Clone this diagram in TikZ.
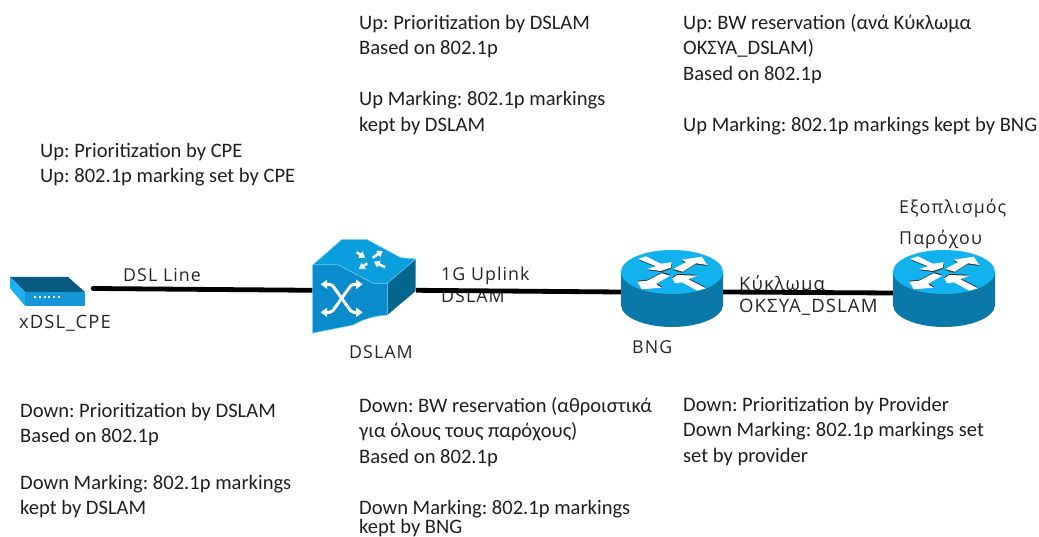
\documentclass[tikz,border=0pt]{standalone}
\usepackage{fontspec}
\setmainfont{Carlito}
\newfontfamily\labelfont[LetterSpace=6]{Open Sans}
\usetikzlibrary{arrows.meta}
\definecolor{rtop}{HTML}{12B2EE}
\definecolor{rside}{HTML}{0A78A8}
\definecolor{swfront}{HTML}{0A8BCB}
\definecolor{swtop}{HTML}{0A9EDC}
\definecolor{swside}{HTML}{05668D}
\definecolor{cpetop}{HTML}{07597F}
\definecolor{cpefront}{HTML}{1594D6}
\definecolor{cpeleft}{HTML}{1BB0F2}
\definecolor{edgeblue}{HTML}{6CCBF2}
\tikzset{
  x=1pt,y=-1pt,
  block/.style={anchor=north west,align=left,inner sep=0pt,text=black!88,font=\frenchspacing\fontsize{20.55}{25.5}\selectfont},
  lbl/.style={anchor=base west,align=left,inner sep=0pt,text=black!85,font=\labelfont\fontsize{17.8}{22}\selectfont},
  hub/.style={inner sep=0pt,minimum width=#1},
  link/.style={line width=4.8pt,black},
  sarrow/.style={white,line width=2.6pt,-{Triangle[width=7.5pt,length=5.5pt]}},
  xarrow/.style={white,line width=3pt,{Triangle[width=9pt,length=6.5pt]}-{Triangle[width=9pt,length=6.5pt]}},
  router/.pic={
    \fill[rside] (-51,0) -- (-51,33) .. controls (-51,45) and (-28,55) .. (0,55) .. controls (28,55) and (51,45) .. (51,33) -- (51,0) -- cycle;
    \fill[rtop] (0,0) ellipse[x radius=51,y radius=22];
    \foreach \sx/\sy/\pts in {0.5/1/{(-33.7,-13) -- (-26,-15.7) -- (-11.3,-8.3) -- (-0.3,-9.7) -- (-1.3,-4.3) -- (-11.3,-1) -- (-25.3,-3) -- (-16,-5.7) -- cycle},
        -0.5/1/{(1.3,-3) -- (14,-9.7) -- (9.7,-12.3) -- (29.7,-15.3) -- (35.3,-7) -- (24,-8.7) -- (10.7,-0.3) -- cycle},
        0.5/-1/{(-34.7,9.7) -- (-24.7,8.7) -- (-10.3,1.3) -- (-2,3.7) -- (-16,12) -- (-10.3,15.7) -- (-30.3,17.3) -- cycle},
        0/-1/{(0.3,6.3) -- (5.3,3) -- (25.3,3.7) -- (16.3,7.3) -- (34,16.3) -- (25.3,18.7) -- (9.7,10.3) -- (3,11.3) -- cycle}}{
      \fill[black!80,shift={(\sx,\sy)}] \pts;
      \fill[white] \pts;
    }
  }
}
\begin{document}
\begin{tikzpicture}
\useasboundingbox (0,0) rectangle (1039,537);
% anchors of the devices
\node[hub=92,minimum height=36] (cpe) at (47,288.5) {};
\node[hub=103,minimum height=94] (dslam) at (364.5,290.3) {};
\node[hub=102,minimum height=88] (bng) at (672,292) {};
\node[hub=102,minimum height=88] (prov) at (944,293) {};
% labels lying under the lines
\node[lbl] (uplink) at (441,303) {1G Uplink\\DSLAM};
\node[lbl,font=\labelfont\fontsize{18.5}{22}\selectfont] (circ) at (739,313) {Κύκλωμα\\ΟΚΣΥΑ\_DSLAM};
% connectors
\draw[link,line cap=round] (cpe.east) -- (dslam.west);
\draw[link] (dslam.east) -- (bng.west);
\draw[link] (bng.east) -- (prov.west);
% CPE
\fill[cpetop] (10,277) -- (68,277) -- (85,292) -- (25,292) -- cycle;
\fill[cpeleft] (10,277) -- (25,292) -- (25,306) -- (10,288) -- cycle;
\fill[cpefront,rounded corners=1pt] (25,292) -- (85,292) -- (85,306) -- (25,306) -- cycle;
\foreach \i in {0,...,5} \fill[white] (34+\i*4.8,296.5) rectangle ++(2,2);
% DSLAM
\fill[swside] (387.3,283.3) -- (415.7,259) -- (415.7,291) -- (387.3,315) -- cycle;
\fill[swtop,draw=edgeblue,line width=.5pt] (312.7,265) -- (341.7,239.7) -- (367.3,239.7) -- (400.7,257.7) -- (415.7,259) -- (387.3,283.3) -- (373.3,283.3) -- (338.3,265) -- cycle;
\fill[swfront,draw=edgeblue,line width=.5pt] (312.7,265) -- (338.3,265) -- (373.3,283.3) -- (387.3,283.3) -- (387.3,315) .. controls (372,316) and (362,320) .. (353,325) -- (312.7,333) -- cycle;
\draw[xarrow,rounded corners=2pt] (320.7,284.3) -- (331.7,284.3) -- (351.7,312.3) -- (362.7,312.3);
\draw[xarrow,rounded corners=2pt] (320.7,312.3) -- (331.7,312.3) -- (351.7,284.3) -- (362.7,284.3);
\draw[sarrow] (356.7,252.3) -- (365,257.7);
\draw[sarrow] (372.7,257.7) -- (382.7,251);
\draw[sarrow] (367.3,263.3) -- (359,269);
\draw[sarrow] (385,267.3) -- (374,261.7);
% routers
\pic at (672,272) {router};
\pic at (944,272) {router};
% device labels
\node[lbl,font=\labelfont\fontsize{18.4}{22}\selectfont] (cpelabel) at (19,329) {xDSL\_CPE};
\node[lbl] (dsllabel) at (123,282) {DSL Line};
\node[lbl] (dslamlabel) at (349,359) {DSLAM};
\node[lbl] (bnglabel) at (632,354) {BNG};
\node[lbl] (provlabel1) at (899,214) {Εξοπλισμός};
\node[lbl] (provlabel2) at (899,245) {Παρόχου};
% text blocks
\node[block] (t1) at (40,143) {Up: Prioritization by CPE\\Up: 802.1p marking set by CPE};
\node[block] (t2) at (359,15) {Up: Prioritization by DSLAM\\Based on 802.1p\\[25.5pt]Up Marking: 802.1p markings\\kept by DSLAM};
\node[block] (t3) at (683,14) {Up: BW reservation (ανά Κύκλωμα\\ΟΚΣΥΑ\_DSLAM)\\Based on 802.1p\\[25.5pt]Up Marking: 802.1p markings kept by BNG};
\node[block] (t4) at (20,403) {Down: Prioritization by DSLAM\\Based on 802.1p\\[21pt]Down Marking: 802.1p markings\\kept by DSLAM};
\node[block] (t5) at (359,397) {Down: BW reservation (αθροιστικά\\για όλους τους παρόχους)\\Based on 802.1p\\[25.5pt]Down Marking: 802.1p markings\\[-6.5pt]kept by BNG};
\node[block] (t6) at (683,397) {Down: Prioritization by Provider\\Down Marking: 802.1p markings set\\set by provider};
\end{tikzpicture}
\end{document}
